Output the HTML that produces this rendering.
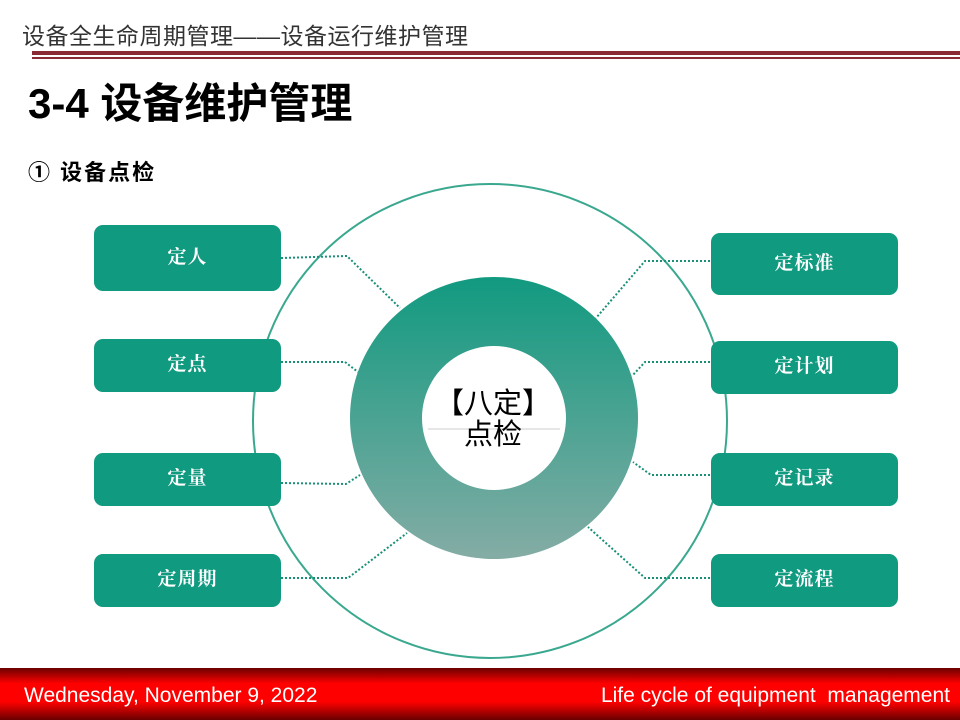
<!DOCTYPE html>
<html><head><meta charset="utf-8"><style>
body{margin:0;width:960px;height:720px;position:relative;background:#fff;overflow:hidden;font-family:"Liberation Sans","Noto Sans CJK SC",sans-serif}
.t1{position:absolute;left:22px;top:17px;font-size:23px;color:#333;letter-spacing:0.5px}
.bar1{position:absolute;left:32px;top:51px;width:928px;height:4px;background:#8a2a35}
.bar2{position:absolute;left:32px;top:57px;width:928px;height:2px;background:#8a2a35}
.t2{position:absolute;left:28px;top:70px;font-size:42px;font-weight:bold;color:#000}
.t3{position:absolute;left:28px;top:155px;font-size:22px;font-weight:bold;color:#000;letter-spacing:2px}
.box{position:absolute;width:187px;background:#109a80;border-radius:9px;color:#fff;font-family:"Liberation Serif","Noto Serif CJK SC",serif;font-weight:bold;font-size:19px;display:flex;align-items:center;justify-content:center;letter-spacing:1px;padding-bottom:6px;box-sizing:border-box}
.foot{position:absolute;left:0;top:668px;width:960px;height:52px;background:linear-gradient(#6a0000 0%,#ff0000 30%,#ff0000 65%,#6a0000 100%)}
.foot span{position:absolute;top:16px;color:#fff;font-size:21px}
</style></head><body>
<div class="t1">设备全生命周期管理——设备运行维护管理</div>
<div class="bar1"></div><div class="bar2"></div>
<div class="t2">3-4 设备维护管理</div>
<div class="t3">① 设备点检</div>
<svg width="960" height="720" style="position:absolute;left:0;top:0">
<defs><linearGradient id="g" x1="0" y1="0" x2="0" y2="1"><stop offset="0" stop-color="#119a80"/><stop offset="1" stop-color="#84aca5"/></linearGradient></defs>
<circle cx="490" cy="421" r="237" fill="none" stroke="#3aa88f" stroke-width="2"/>
<g fill="none" stroke="#1a8f78" stroke-width="2" stroke-dasharray="2 2">
<polyline points="281,258 347,256 400,308"/>
<polyline points="281,362 345,362 358,372"/>
<polyline points="281,483 346,484 360,475"/>
<polyline points="281,578 348,578 407,533"/>
<polyline points="710,261 645,261 596,318"/>
<polyline points="710,362 645,362 632,376"/>
<polyline points="710,475 651,475 633,462"/>
<polyline points="710,578 645,578 588,527"/>
</g>
<path d="M494 277a144 141 0 1 0 0.01 0Z M494 346a72 72 0 1 1 -0.01 0Z" fill="url(#g)" fill-rule="evenodd"/>
<line x1="428" y1="429" x2="560" y2="429" stroke="#ccc" stroke-width="1"/>
<text x="493" y="413" text-anchor="middle" font-size="29" font-family="Liberation Sans,Noto Sans CJK SC,sans-serif">【八定】</text>
<text x="493" y="444" text-anchor="middle" font-size="29" font-family="Liberation Sans,Noto Sans CJK SC,sans-serif">点检</text>
</svg>
<div class="box" style="left:94px;top:225px;height:66px">定人</div>
<div class="box" style="left:94px;top:339px;height:53px">定点</div>
<div class="box" style="left:94px;top:453px;height:53px">定量</div>
<div class="box" style="left:94px;top:554px;height:53px">定周期</div>
<div class="box" style="left:711px;top:233px;height:62px">定标准</div>
<div class="box" style="left:711px;top:341px;height:53px">定计划</div>
<div class="box" style="left:711px;top:453px;height:53px">定记录</div>
<div class="box" style="left:711px;top:554px;height:53px">定流程</div>
<div class="foot"><span style="left:24px">Wednesday, November 9, 2022</span><span style="right:10px">Life cycle of equipment&nbsp; management</span></div>
</body></html>
